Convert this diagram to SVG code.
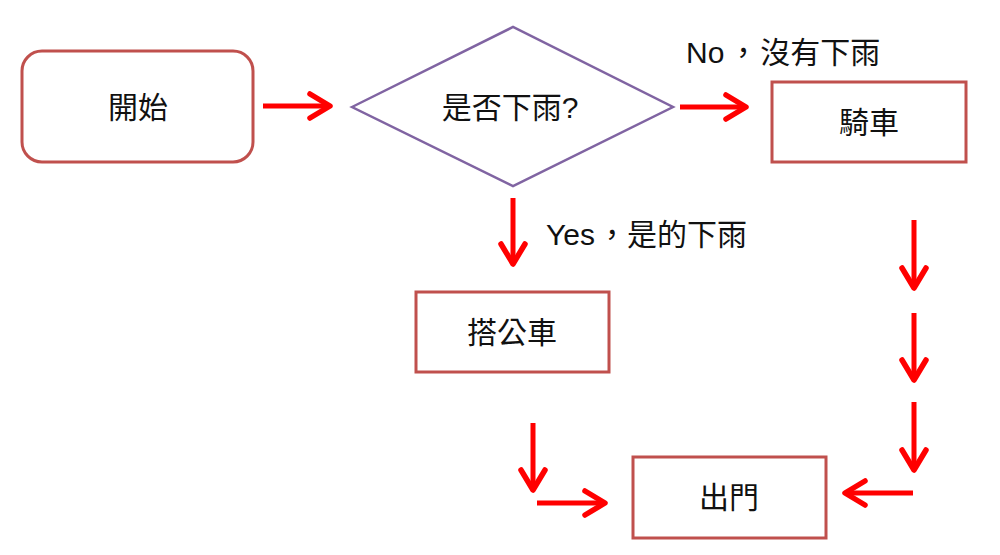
<svg xmlns="http://www.w3.org/2000/svg" width="1000" height="555" viewBox="0 0 1000 555">
<style>
.box{fill:#fff;stroke:#C0504D;stroke-width:3}
.dia{fill:#fff;stroke:#8064A2;stroke-width:2.5}
.t{font-family:"Liberation Sans","Noto Sans CJK TC",sans-serif;font-size:30px;fill:#111;text-anchor:middle}
.lbl{font-family:"Liberation Sans","Noto Sans CJK TC",sans-serif;font-size:30px;fill:#111}
.c{stroke:#FF0000;stroke-width:5;fill:none;marker-end:url(#arr)}
</style>
<defs>
<marker id="arr" markerUnits="userSpaceOnUse" markerWidth="34" markerHeight="34" viewBox="-28 -17 34 34" refX="0" refY="0" orient="auto">
<path d="M-20,-12 L0,0 L-20,12" fill="none" stroke="#FF0000" stroke-width="5.5" stroke-linecap="round" stroke-linejoin="round"/>
</marker>
</defs>
<rect width="1000" height="555" fill="#fff"/>
<g id="start">
<rect class="box" x="22" y="51" width="231" height="111" rx="20"/>
<text class="t" x="138" y="118">開始</text>
</g>
<g id="decision">
<polygon class="dia" points="352,107 513,27 673,107 513,186"/>
<text class="t" x="510" y="118">是否下雨?</text>
</g>
<g id="bike">
<rect class="box" x="772" y="82" width="194" height="80"/>
<text class="t" x="869" y="133">騎車</text>
</g>
<g id="bus">
<rect class="box" x="416" y="292" width="193" height="80"/>
<text class="t" x="512" y="343">搭公車</text>
</g>
<g id="out">
<rect class="box" x="633" y="457" width="193" height="81"/>
<text class="t" x="729" y="508">出門</text>
</g>
<g id="connectors">
<line class="c" x1="263" y1="106" x2="330" y2="106"/>
<line class="c" x1="680" y1="107" x2="746" y2="107"/>
<line class="c" x1="513" y1="198" x2="513" y2="264"/>
<line class="c" x1="914" y1="220" x2="914" y2="288"/>
<line class="c" x1="914" y1="313" x2="914" y2="380"/>
<line class="c" x1="914" y1="402" x2="914" y2="470"/>
<line class="c" x1="913" y1="493" x2="845" y2="493"/>
<line class="c" x1="533" y1="423" x2="533" y2="490"/>
<line class="c" x1="537" y1="503" x2="605" y2="503"/>
<text class="lbl" x="686" y="63">No<tspan dx="4">，</tspan><tspan dx="2">沒有下雨</tspan></text>
<text class="lbl" x="546" y="245">Yes<tspan dx="2">，</tspan>是的下雨</text>
</g>
</svg>
